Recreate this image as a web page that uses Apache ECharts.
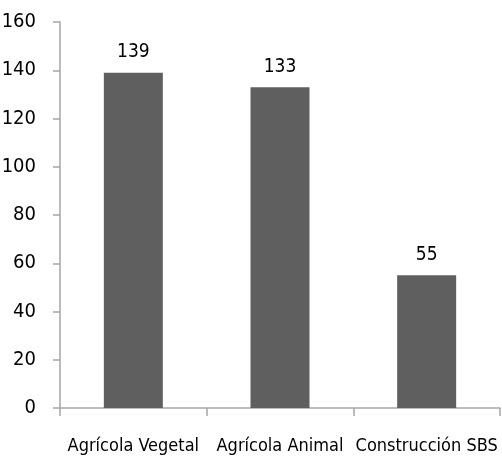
<!DOCTYPE html>
<html>
<head>
<meta charset="utf-8">
<script src="https://cdn.jsdelivr.net/npm/echarts@6/dist/echarts.min.js"></script>
<style>
  html, body { margin: 0; padding: 0; background: #fff; }
  #chart { width: 502px; height: 461px; }
</style>
</head>
<body>
<div id="chart"></div>
<script>
const categories = ['Agrícola Vegetal', 'Agrícola Animal', 'Construcción SBS']
const values = [139, 133, 55]
const font = '"DejaVu Sans Condensed", "Liberation Sans Narrow", sans-serif'

const myChart = echarts.init(document.getElementById('chart'))
myChart.setOption({
  animation: false,
  grid: {
    left: 60,
    right: 2,
    top: 22,
    bottom: 53,
    outerBoundsMode: 'none'
  },
  xAxis: {
    type: 'category',
    data: categories,
    axisLine: { lineStyle: { color: '#a6a6a6', width: 1.5 } },
    axisTick: { show: true, interval: 0, length: 8, lineStyle: { color: '#a6a6a6', width: 1.5 } },
    axisLabel: {
      interval: 0,
      margin: 29,
      color: '#000',
      fontFamily: font,
      fontSize: 18
    }
  },
  yAxis: {
    type: 'value',
    min: 0,
    max: 160,
    interval: 20,
    splitLine: { show: false },
    axisLine: { show: true, lineStyle: { color: '#a6a6a6', width: 1.5 } },
    axisTick: { show: true, length: 7, lineStyle: { color: '#a6a6a6', width: 1.5 } },
    axisLabel: {
      margin: 24,
      color: '#000',
      fontFamily: font,
      fontSize: 20
    }
  },
  series: [{
    type: 'bar',
    data: values,
    barWidth: 59,
    itemStyle: { color: '#5f5f5f' },
    label: {
      show: true,
      position: 'top',
      distance: 11,
      color: '#000',
      fontFamily: font,
      fontSize: 19
    }
  }]
})
</script>
</body>
</html>
